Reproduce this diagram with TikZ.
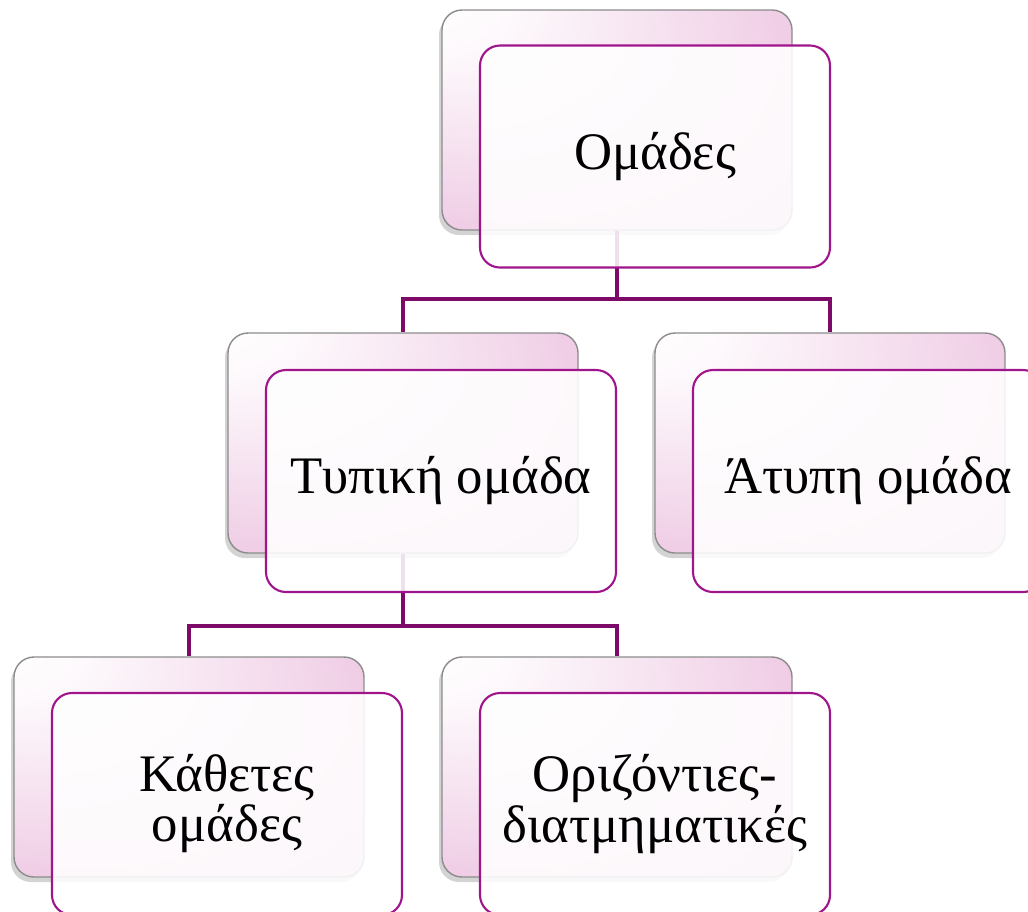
\documentclass[tikz,border=0pt]{standalone}
\usepackage{fontspec}
\setmainfont{Liberation Serif}
\usetikzlibrary{shapes,shadows}
\definecolor{cardpink}{RGB}{225,158,205}
\definecolor{framepurple}{RGB}{160,20,140}
\definecolor{linkpurple}{RGB}{125,10,102}
\pgfdeclareradialshading{cardshade}{\pgfpoint{-30bp}{30bp}}{color(0bp)=(white); color(10bp)=(white!95!cardpink); color(55bp)=(white!25!cardpink); color(78bp)=(cardpink)}
\tikzstyle{back}=[rectangle,rounded corners=0.2cm,draw=gray!90,line width=0.4pt,shade,shading=cardshade,minimum width=3.5cm,minimum height=2.2cm,drop shadow={shadow xshift=-0.03cm,shadow yshift=-0.05cm,opacity=0.35}]
\tikzstyle{front}=[rectangle,rounded corners=0.2cm,draw=framepurple,line width=0.6pt,fill=white,fill opacity=0.88,text opacity=1,minimum width=3.5cm,minimum height=2.22cm,align=center,font=\fontsize{15}{13}\selectfont]
\tikzstyle{link}=[draw=linkpurple,line width=1.2pt]

\begin{document}
\begin{tikzpicture}
\useasboundingbox (0,0) rectangle (10.28,-9.11);
\clip (0,0) rectangle (10.28,-9.11);
\node[back] (omb) at (6.17,-1.20) {};
\node[back] (tyb) at (4.03,-4.43) {};
\node[back] (atb) at (8.30,-4.43) {};
\node[back] (kab) at (1.89,-7.67) {};
\node[back] (orb) at (6.17,-7.67) {};
\draw[link] (omb.south) -- ++(0,-0.68) -| (tyb.north);
\draw[link] (omb.south) -- ++(0,-0.68) -| (atb.north);
\draw[link] (tyb.south) -- ++(0,-0.72) -| (kab.north);
\draw[link] (tyb.south) -- ++(0,-0.72) -| (orb.north);
\node[front] (om) at (6.55,-1.565) {Ομάδες};
\node[front] (ty) at (4.41,-4.81) {Τυπική ομάδα};
\node[front] (at) at (8.68,-4.81) {Άτυπη ομάδα};
\node[front] (ka) at (2.27,-8.04) {Κάθετες\\ομάδες};
\node[front] (or) at (6.55,-8.04) {Οριζόντιες-\\διατμηματικές};
\end{tikzpicture}
\end{document}
